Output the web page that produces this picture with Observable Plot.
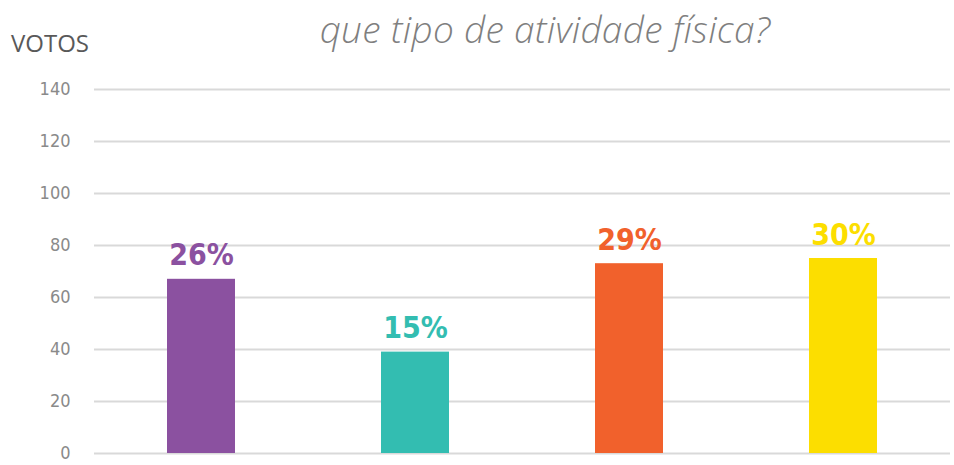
<!DOCTYPE html>
<html>
<head>
<meta charset="utf-8">
<script src="https://cdn.jsdelivr.net/npm/d3@7"></script>
<script src="https://cdn.jsdelivr.net/npm/@observablehq/plot@0.6"></script>
<style>
  html, body { margin: 0; padding: 0; background: #fff; }
  #wrap { position: relative; width: 954px; height: 465px; overflow: hidden; }
  #title { position: absolute; left: 0; width: 954px; top: 3px; text-align: center; padding-left: 136px; box-sizing: border-box;
    font-family: "Open Sans", Lato, sans-serif; font-style: italic; font-weight: 300; font-size: 37px; color: #7f7f7f; letter-spacing: 0.3px; }
  #votos { position: absolute; left: 11px; top: 26px; font-family: "Open Sans", sans-serif; font-size: 24px; color: #595959; letter-spacing: 0px; }
  #chart { position: absolute; left: 0; top: 60px; }
</style>
</head>
<body>
<div id="wrap">
  <div id="title">que tipo de atividade física?</div>
  <div id="votos">VOTOS</div>
  <div id="chart"></div>
</div>
<script>
const categories = ["A", "B", "C", "D"];
const votes = [67, 39, 73, 75];
const labels = ["26%", "15%", "29%", "30%"];
const colors = ["#8B51A0", "#33BDB1", "#F1612C", "#FCDE00"];
const yTicks = [0, 20, 40, 60, 80, 100, 120, 140];

const data = categories.map((c, i) => ({cat: c, v: votes[i], label: labels[i], color: colors[i]}));

const plot = Plot.plot({
  width: 954,
  height: 405,
  marginTop: 29,
  marginBottom: 12,
  marginLeft: 94,
  marginRight: 4,
  style: {fontFamily: "'Liberation Sans Narrow', 'DejaVu Sans Condensed', sans-serif", fontSize: "18px", color: "#8a8a8a", background: "#fff"},
  x: {domain: categories, paddingInner: 0.68, paddingOuter: 0.34, axis: null},
  y: {domain: [0, 140], ticks: yTicks, tickSize: 0, tickPadding: 24, label: null},
  marks: [
    Plot.ruleY(yTicks, {stroke: "#d9d9d9", strokeWidth: 2}),
    Plot.barY(data, {x: "cat", y: "v", fill: "color"}),
    Plot.text(data, {x: "cat", y: "v", text: "label", fill: "color", dy: -14, lineAnchor: "bottom",
      fontFamily: "'DejaVu Sans Condensed', 'Liberation Sans Narrow', sans-serif", fontWeight: "bold", fontSize: 30})
  ]
});
document.getElementById("chart").appendChild(plot);
</script>
</body>
</html>
